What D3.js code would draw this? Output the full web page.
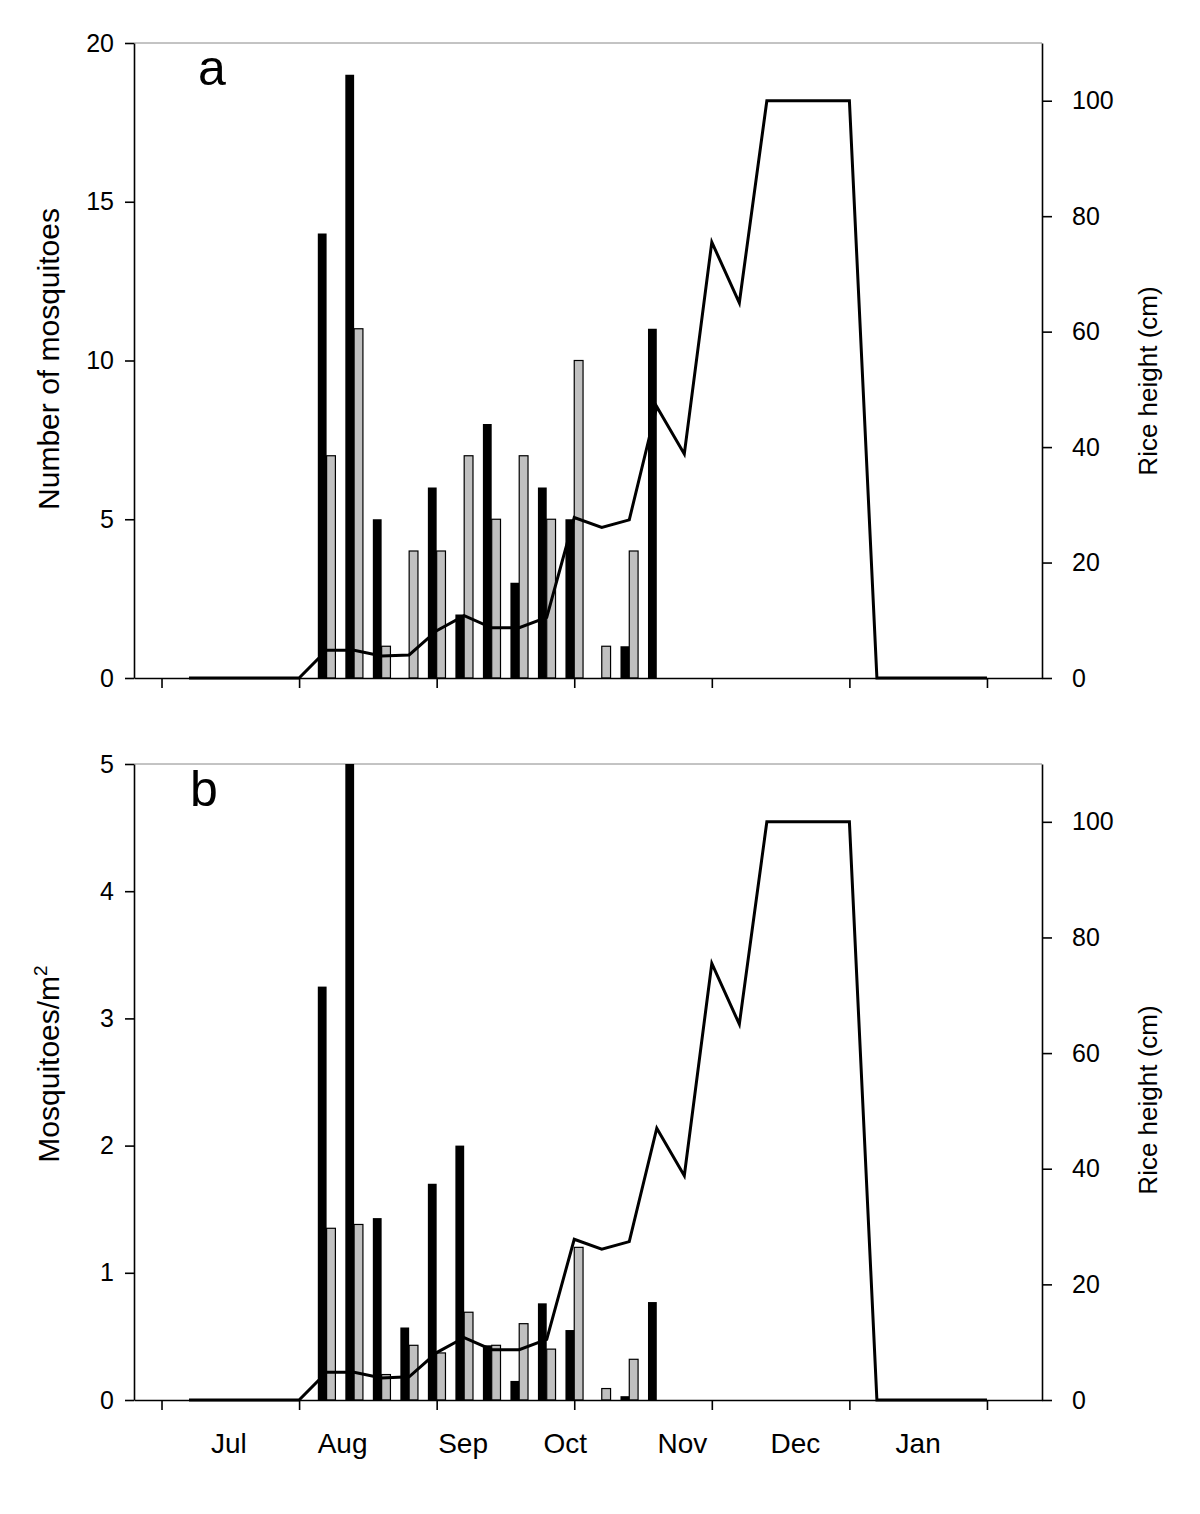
<!DOCTYPE html>
<html>
<head>
<meta charset="utf-8">
<script src="https://cdn.jsdelivr.net/npm/d3@7"></script>
<style>
  html, body { margin: 0; padding: 0; background: #fff; }
  svg { display: block; font-family: "Liberation Sans", Arial, Helvetica, sans-serif; }
</style>
</head>
<body>
<svg id="chart" width="1200" height="1514"></svg>
<script>
// ---------- data ----------
const xTickValues = [0, 5, 10, 15, 20, 25, 30];
const monthLabels = ["Jul", "Aug", "Sep", "Oct", "Nov", "Dec", "Jan"];
const monthLabelAt = [2.45, 6.58, 10.96, 14.67, 18.93, 23.04, 27.5];

const sampleWeek = [6, 7, 8, 9, 10, 11, 12, 13, 14, 15, 16, 17, 18];
const countBlack = [14, 19, 5, 0, 6, 2, 8, 3, 6, 5, 0, 1, 11];
const countGray  = [7, 11, 1, 4, 4, 7, 5, 7, 5, 10, 1, 4, 0];
const densBlack  = [3.25, 5.0, 1.43, 0.57, 1.70, 2.00, 0.43, 0.15, 0.76, 0.55, 0, 0.03, 0.77];
const densGray   = [1.35, 1.38, 0.20, 0.43, 0.37, 0.69, 0.43, 0.60, 0.40, 1.20, 0.09, 0.32, 0];

const riceWeek   = [1, 5, 6, 7, 8, 9, 10, 11, 12, 13, 14, 15, 16, 17, 18, 19, 20, 21, 22, 25, 26, 30];
const riceHeight = [0, 0, 4.8, 4.8, 3.8, 4.0, 8.2, 10.8, 8.7, 8.7, 10.5, 27.8, 26.1, 27.4, 47, 38.8, 75.5, 65, 100, 100, 0, 0];

const leftTicksA = [0, 5, 10, 15, 20];
const leftTicksB = [0, 1, 2, 3, 4, 5];
const rightTicks = [0, 20, 40, 60, 80, 100];

// ---------- layout ----------
const svg = d3.select("#chart");
svg.append("rect").attr("width", 1200).attr("height", 1514).attr("fill", "#fff");

const X0 = 134, X1 = 1042;
const x = d3.scaleLinear().domain([-1, 32]).range([X0, X1]);
const barW = 0.32;

function panel(opts) {
  const { top, bottom, yMax, leftTicks, black, gray, letter, letterX, letterY, yTitle, yTitleY, rTitleY, id } = opts;
  const g = svg.append("g");
  const y = d3.scaleLinear().domain([0, yMax]).range([bottom, top]);
  const yr = d3.scaleLinear().domain([0, 110]).range([bottom, top]);

  g.append("clipPath").attr("id", id).append("rect")
    .attr("x", X0).attr("y", top).attr("width", X1 - X0).attr("height", bottom - top);

  // top frame line
  g.append("line").attr("x1", X0).attr("x2", X1).attr("y1", top).attr("y2", top)
    .attr("stroke", "#888").attr("stroke-width", 1);

  const bars = g.append("g").attr("clip-path", `url(#${id})`);
  bars.selectAll("rect.blk").data(sampleWeek).join("rect")
    .attr("class", "blk")
    .attr("x", (d) => x(d - barW))
    .attr("width", x(barW) - x(0))
    .attr("y", (d, i) => y(black[i]))
    .attr("height", (d, i) => y(0) - y(black[i]))
    .attr("fill", "#000");
  bars.selectAll("rect.gry").data(sampleWeek).join("rect")
    .attr("class", "gry")
    .attr("x", (d) => x(d))
    .attr("width", x(barW) - x(0))
    .attr("y", (d, i) => y(gray[i]))
    .attr("height", (d, i) => y(0) - y(gray[i]))
    .attr("fill", "#c0c0c0")
    .attr("stroke", "#000")
    .attr("stroke-width", 1.2)
    .attr("display", (d, i) => gray[i] > 0 ? null : "none");

  // rice height line
  const line = d3.line().x((d) => x(d[0])).y((d) => yr(d[1]));
  g.append("path")
    .attr("d", line(riceWeek.map((w, i) => [w, riceHeight[i]])))
    .attr("fill", "none").attr("stroke", "#000").attr("stroke-width", 3)
    .attr("stroke-linejoin", "miter");

  // axes
  const axL = g.append("g").attr("transform", `translate(${X0},0)`)
    .call(d3.axisLeft(y).tickValues(leftTicks).tickSize(9).tickSizeOuter(0).tickPadding(11)
      .tickFormat(d3.format("d")));
  const axR = g.append("g").attr("transform", `translate(${X1},0)`)
    .call(d3.axisRight(yr).tickValues(rightTicks).tickSize(10).tickSizeOuter(0).tickPadding(20)
      .tickFormat(d3.format("d")));
  const axB = g.append("g").attr("transform", `translate(0,${bottom})`)
    .call(d3.axisBottom(x).tickValues(xTickValues).tickSize(10).tickSizeOuter(0).tickFormat(""));
  [axL, axR, axB].forEach((a) => {
    a.selectAll("path, line").attr("stroke", "#000").attr("stroke-width", 1.6);
    a.selectAll("text").attr("font-size", 25).attr("fill", "#000")
      .attr("font-family", '"Liberation Sans", Arial, sans-serif');
  });

  // letter
  g.append("text").attr("x", letterX).attr("y", letterY)
    .attr("font-size", 50).text(letter);

  // left title
  const lt = g.append("text")
    .attr("transform", `translate(59,${yTitleY}) rotate(-90)`)
    .attr("text-anchor", "middle").attr("font-size", 30);
  yTitle(lt);

  // right title
  g.append("text")
    .attr("transform", `translate(1157,${rTitleY}) rotate(-90)`)
    .attr("text-anchor", "middle").attr("font-size", 26)
    .text("Rice height (cm)");
  return g;
}

panel({
  id: "clipA", top: 43, bottom: 678, yMax: 20, leftTicks: leftTicksA,
  black: countBlack, gray: countGray, letter: "a", letterX: 198, letterY: 85,
  yTitle: (t) => t.text("Number of mosquitoes"), yTitleY: 359, rTitleY: 381
});

panel({
  id: "clipB", top: 764, bottom: 1400, yMax: 5, leftTicks: leftTicksB,
  black: densBlack, gray: densGray, letter: "b", letterX: 190, letterY: 806,
  yTitle: (t) => {
    t.append("tspan").text("Mosquitoes/m");
    t.append("tspan").attr("font-size", 19).attr("dy", -12).text("2");
  },
  yTitleY: 1064, rTitleY: 1100
});

// month labels
svg.append("g").selectAll("text").data(monthLabels).join("text")
  .attr("x", (d, i) => x(monthLabelAt[i]))
  .attr("y", 1453)
  .attr("text-anchor", "middle")
  .attr("font-size", 28)
  .text((d) => d);
</script>
</body>
</html>
